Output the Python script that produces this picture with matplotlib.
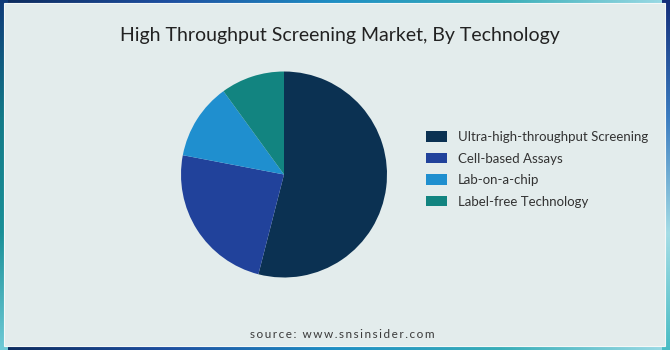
import numpy as np
import matplotlib
matplotlib.use('Agg')
import matplotlib.pyplot as plt
from matplotlib.colors import LinearSegmentedColormap
from matplotlib.patches import Rectangle

# ── Data ──────────────────────────────────────────────────────────────────────
TITLE = 'High Throughput Screening Market, By Technology'
SOURCE = 'source: www.snsinsider.com'
labels = ['Ultra-high-throughput Screening', 'Cell-based Assays',
          'Lab-on-a-chip', 'Label-free Technology']
shares = [54.0, 24.0, 12.0, 10.0]
colors = ['#0b3152', '#21429b', '#1f8fcf', '#128480']

W, H = 670, 350
PANEL = '#e3ecec'
FONT = ['Lato', 'DejaVu Sans']

fig = plt.figure(figsize=(W / 100, H / 100), dpi=100)

# ── Gradient frame ────────────────────────────────────────────────────────────
bg = fig.add_axes([0, 0, 1, 1])
bg.set_xlim(0, W); bg.set_ylim(H, 0); bg.axis('off')

def strip(cols, extent, vertical=False):
    cm = LinearSegmentedColormap.from_list('s', cols)
    g = np.linspace(0, 1, 256)
    arr = g[:, None] if vertical else g[None, :]
    bg.imshow(arr, cmap=cm, extent=extent, aspect='auto', zorder=0)

horiz = ['#0d2b5c', '#1e4fa0', '#1f8fc4', '#3aaeb8', '#9ddbe6']
strip(horiz, (0, W, 8, 0))
strip(horiz, (0, W, H, H - 8))
strip(['#6fcad6', '#1a9098', '#137a88', '#0e3a78'], (0, 8, 0, H), vertical=True)
strip(['#49bcc4', '#a5dde6', '#3b7cc0', '#142f7a'], (W - 8, W, 0, H), vertical=True)

bg.add_patch(Rectangle((4, 3), W - 9, H - 7, facecolor=PANEL,
                       edgecolor='#f4f8f8', lw=0.8, zorder=1))

# ── Pie ───────────────────────────────────────────────────────────────────────
cx, cy, r = 284, 174.5, 103
ax = fig.add_axes([(cx - r) / W, (H - cy - r) / H, 2 * r / W, 2 * r / H])
wedges, _ = ax.pie(shares, colors=colors, startangle=90, counterclock=False,
                   wedgeprops=dict(linewidth=0))
ax.set_xlim(-1, 1); ax.set_ylim(-1, 1); ax.set_aspect('equal')

# ── Legend ────────────────────────────────────────────────────────────────────
fig.legend(wedges, labels, loc='upper left', bbox_to_anchor=(426 / W, 1 - 131 / H),
           frameon=False, borderpad=0, borderaxespad=0,
           handlelength=1.6, handleheight=0.85, handletextpad=0.8,
           labelspacing=0.72, prop=dict(family=FONT, size=9.5),
           labelcolor='#333333')

# ── Texts ─────────────────────────────────────────────────────────────────────
fig.text(340 / W, 1 - 36 / H, TITLE, ha='center', va='center',
         family=FONT, fontsize=14, color='#222222')
spaced = '\u2009'.join(SOURCE)   # letter-spaced like the original
fig.text(342 / W, 1 - 335 / H, spaced, ha='center', va='center',
         family=FONT, fontsize=8.5, color='#3a3a3a')

fig.savefig('out.png', dpi=100)
